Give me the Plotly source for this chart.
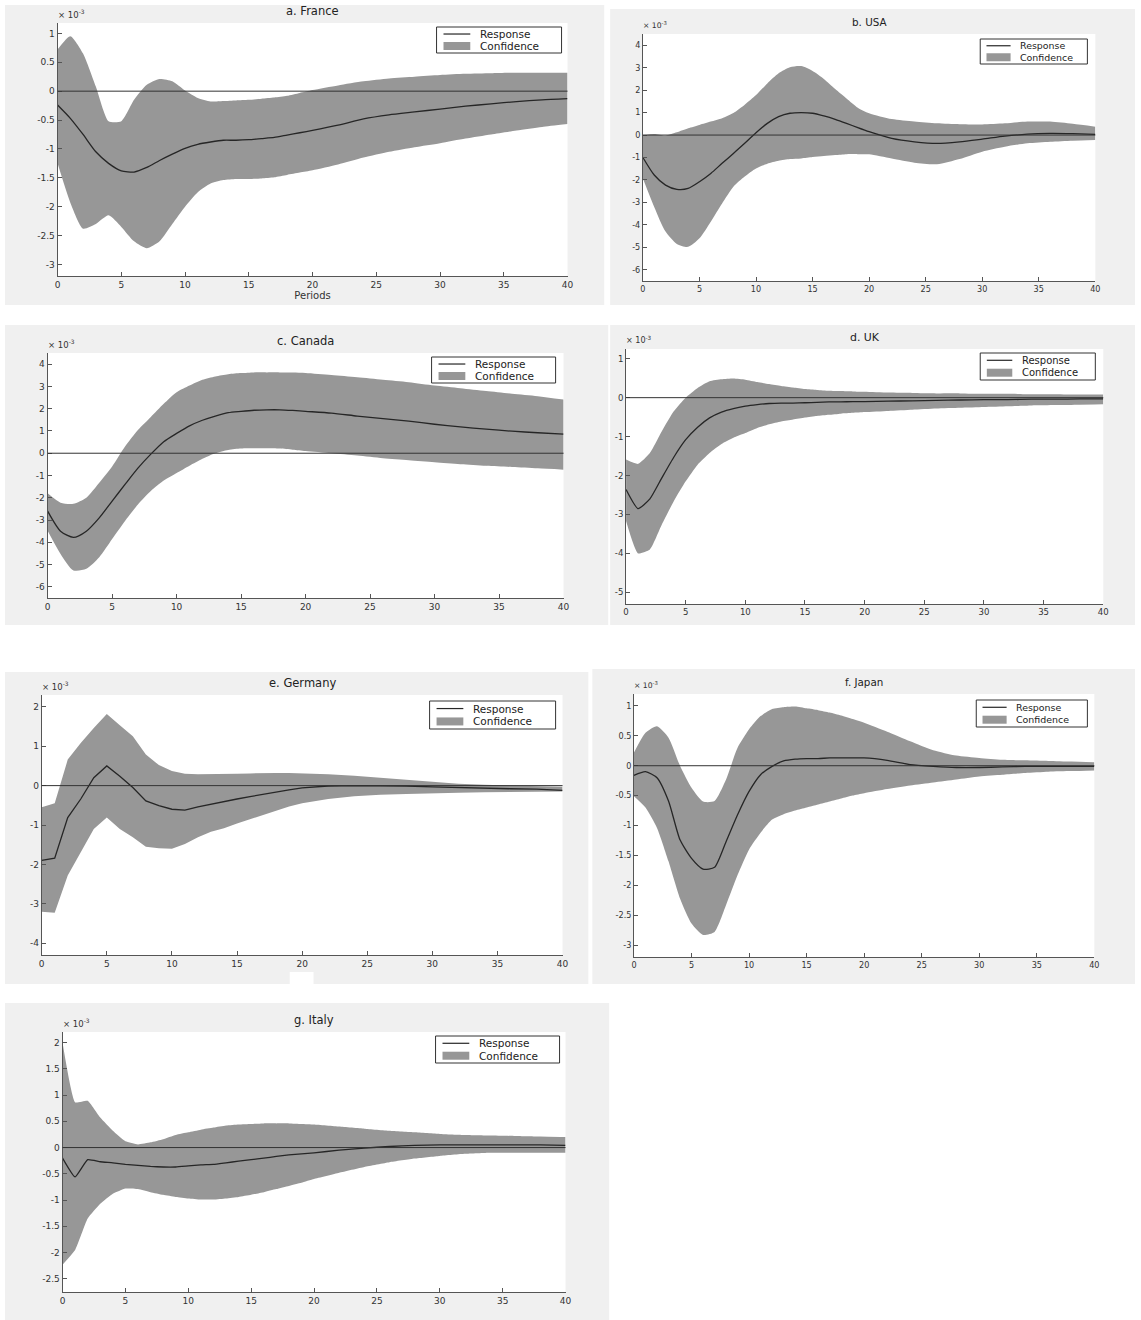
import plotly.graph_objects as go

# ---------------- data (values in units of 10^-3) ----------------
periods = list(range(0, 21)) + list(range(22, 41, 2))
x_ticks = [0, 5, 10, 15, 20, 25, 30, 35, 40]

france_response = [-0.24, -0.47, -0.75, -1.05, -1.25, -1.38, -1.40, -1.32, -1.20, -1.09, -0.99,
                   -0.92, -0.88, -0.85, -0.85, -0.84, -0.82, -0.80, -0.76, -0.72, -0.68,
                   -0.59, -0.48, -0.41, -0.36, -0.31, -0.26, -0.22, -0.18, -0.15, -0.13]
france_upper = [0.72, 0.95, 0.65, 0.08, -0.52, -0.52, -0.15, 0.11, 0.21, 0.17, 0.01,
                -0.12, -0.18, -0.17, -0.16, -0.15, -0.13, -0.11, -0.08, -0.03, 0.02,
                0.10, 0.17, 0.22, 0.25, 0.28, 0.30, 0.31, 0.32, 0.32, 0.32]
france_lower = [-1.25, -1.93, -2.38, -2.30, -2.15, -2.35, -2.60, -2.72, -2.60, -2.30, -2.00,
                -1.75, -1.60, -1.54, -1.52, -1.52, -1.51, -1.49, -1.45, -1.41, -1.37,
                -1.27, -1.15, -1.05, -0.97, -0.90, -0.82, -0.75, -0.68, -0.62, -0.57]
france_yticks = [1, 0.5, 0, -0.5, -1, -1.5, -2, -2.5, -3]

usa_response = [-1.00, -1.78, -2.23, -2.42, -2.38, -2.08, -1.71, -1.26, -0.82, -0.37, 0.10,
                0.52, 0.82, 0.97, 1.00, 0.97, 0.85, 0.70, 0.52, 0.33, 0.15,
                -0.15, -0.30, -0.37, -0.30, -0.18, -0.05, 0.04, 0.07, 0.06, 0.03]
usa_upper = [0.00, 0.05, -0.02, 0.12, 0.30, 0.45, 0.60, 0.75, 0.98, 1.35, 1.78,
             2.30, 2.75, 3.02, 3.07, 2.85, 2.50, 2.05, 1.63, 1.22, 0.97,
             0.71, 0.60, 0.52, 0.48, 0.47, 0.52, 0.60, 0.60, 0.50, 0.37]
usa_lower = [-1.93, -3.20, -4.30, -4.85, -4.98, -4.60, -3.86, -3.05, -2.30, -1.85, -1.49,
             -1.28, -1.15, -1.07, -1.04, -0.98, -0.93, -0.89, -0.85, -0.85, -0.86,
             -1.05, -1.23, -1.30, -1.07, -0.74, -0.52, -0.37, -0.30, -0.25, -0.22]
usa_yticks = [4, 3, 2, 1, 0, -1, -2, -3, -4, -5, -6]

canada_response = [-2.60, -3.50, -3.78, -3.50, -2.90, -2.15, -1.40, -0.67, -0.04, 0.52, 0.89,
                   1.23, 1.48, 1.67, 1.82, 1.88, 1.93, 1.95, 1.95, 1.92, 1.88,
                   1.80, 1.67, 1.55, 1.44, 1.30, 1.18, 1.08, 0.99, 0.92, 0.86]
canada_upper = [-1.80, -2.22, -2.27, -2.00, -1.33, -0.60, 0.30, 1.04, 1.63, 2.22, 2.74,
                3.04, 3.30, 3.45, 3.55, 3.60, 3.63, 3.63, 3.63, 3.62, 3.60,
                3.51, 3.41, 3.30, 3.19, 3.04, 2.92, 2.79, 2.67, 2.56, 2.41]
canada_lower = [-3.48, -4.52, -5.26, -5.19, -4.67, -3.85, -3.04, -2.30, -1.70, -1.23, -0.89,
                -0.56, -0.25, 0.00, 0.15, 0.21, 0.22, 0.22, 0.21, 0.16, 0.10,
                0.00, -0.10, -0.22, -0.31, -0.40, -0.49, -0.56, -0.62, -0.68, -0.74]
canada_yticks = [4, 3, 2, 1, 0, -1, -2, -3, -4, -5, -6]

uk_response = [-2.36, -2.85, -2.60, -2.06, -1.53, -1.08, -0.76, -0.52, -0.37, -0.28, -0.22,
               -0.18, -0.15, -0.14, -0.14, -0.13, -0.12, -0.11, -0.11, -0.10, -0.10,
               -0.09, -0.08, -0.07, -0.06, -0.05, -0.05, -0.04, -0.04, -0.03, -0.03]
uk_upper = [-1.59, -1.70, -1.42, -0.86, -0.35, 0.00, 0.25, 0.42, 0.47, 0.49, 0.46,
            0.40, 0.35, 0.30, 0.26, 0.22, 0.20, 0.18, 0.17, 0.16, 0.15,
            0.13, 0.12, 0.11, 0.11, 0.10, 0.10, 0.09, 0.09, 0.08, 0.08]
uk_lower = [-3.17, -4.00, -3.90, -3.26, -2.66, -2.15, -1.72, -1.42, -1.19, -1.03, -0.91,
            -0.78, -0.68, -0.61, -0.56, -0.51, -0.47, -0.44, -0.41, -0.39, -0.37,
            -0.34, -0.31, -0.28, -0.26, -0.24, -0.22, -0.20, -0.19, -0.18, -0.17]
uk_yticks = [1, 0, -1, -2, -3, -4, -5]

germany_response = [-1.90, -1.84, -0.81, -0.34, 0.20, 0.50, 0.24, -0.05, -0.39, -0.51, -0.60,
                    -0.62, -0.54, -0.47, -0.40, -0.34, -0.28, -0.22, -0.17, -0.11, -0.06,
                    -0.01, 0.00, 0.00, -0.01, -0.03, -0.05, -0.07, -0.08, -0.09, -0.12]
germany_upper = [-0.55, -0.45, 0.66, 1.08, 1.46, 1.82, 1.53, 1.25, 0.79, 0.52, 0.37,
                 0.30, 0.29, 0.29, 0.29, 0.30, 0.31, 0.32, 0.32, 0.32, 0.31,
                 0.29, 0.25, 0.20, 0.14, 0.09, 0.05, 0.02, 0.00, -0.01, -0.03]
germany_lower = [-3.20, -3.23, -2.28, -1.69, -1.10, -0.81, -1.10, -1.31, -1.55, -1.59, -1.60,
                 -1.48, -1.31, -1.17, -1.08, -0.96, -0.85, -0.73, -0.63, -0.53, -0.45,
                 -0.34, -0.27, -0.23, -0.21, -0.19, -0.18, -0.17, -0.16, -0.16, -0.15]
germany_yticks = [2, 1, 0, -1, -2, -3, -4]

japan_response = [-0.16, -0.10, -0.20, -0.59, -1.24, -1.55, -1.73, -1.70, -1.27, -0.82, -0.43,
                  -0.15, -0.01, 0.08, 0.11, 0.12, 0.12, 0.13, 0.13, 0.13, 0.13,
                  0.09, 0.02, -0.01, -0.03, -0.03, -0.02, -0.01, -0.01, -0.01, -0.01]
japan_upper = [0.22, 0.55, 0.66, 0.47, 0.00, -0.37, -0.60, -0.59, -0.23, 0.30, 0.61,
               0.83, 0.95, 0.98, 0.99, 0.96, 0.93, 0.89, 0.84, 0.78, 0.72,
               0.57, 0.41, 0.26, 0.17, 0.13, 0.10, 0.09, 0.08, 0.07, 0.06]
japan_lower = [-0.51, -0.70, -1.04, -1.60, -2.22, -2.64, -2.83, -2.78, -2.33, -1.83, -1.40,
               -1.12, -0.90, -0.81, -0.75, -0.70, -0.65, -0.60, -0.55, -0.50, -0.46,
               -0.39, -0.33, -0.28, -0.23, -0.18, -0.15, -0.12, -0.10, -0.09, -0.08]
japan_yticks = [1, 0.5, 0, -0.5, -1, -1.5, -2, -2.5, -3]

italy_response = [-0.20, -0.56, -0.23, -0.27, -0.29, -0.32, -0.34, -0.36, -0.37, -0.37, -0.35,
                  -0.33, -0.32, -0.29, -0.26, -0.23, -0.20, -0.17, -0.14, -0.12, -0.10,
                  -0.05, -0.01, 0.02, 0.04, 0.05, 0.05, 0.05, 0.05, 0.05, 0.04]
italy_upper = [2.00, 0.86, 0.89, 0.57, 0.32, 0.12, 0.06, 0.10, 0.16, 0.24, 0.29,
               0.34, 0.38, 0.42, 0.44, 0.45, 0.46, 0.46, 0.46, 0.45, 0.44,
               0.40, 0.36, 0.32, 0.29, 0.26, 0.24, 0.23, 0.22, 0.21, 0.20]
italy_lower = [-2.23, -1.95, -1.35, -1.07, -0.88, -0.78, -0.79, -0.85, -0.90, -0.94, -0.97,
               -0.99, -0.99, -0.97, -0.94, -0.90, -0.85, -0.79, -0.73, -0.67, -0.60,
               -0.48, -0.37, -0.28, -0.21, -0.16, -0.12, -0.10, -0.10, -0.10, -0.10]
italy_yticks = [2, 1.5, 1, 0.5, 0, -0.5, -1, -1.5, -2, -2.5]

titles = ["a. France", "b. USA", "c. Canada", "d. UK", "e. Germany", "f. Japan", "g. Italy"]
series_names = ["Response", "Confidence"]
scale_label = "× 10<sup>-3</sup>"
x_title = "Periods"

# ---------------- layout (pixel geometry of the page) ----------------
W, H = 1141, 1320
FILL = "#979797"
LINE = "#262626"
AXIS = "#555555"
BG = "#f0f0f0"
FONT = "DejaVu Sans"


def fx(px):
    return px / W


def fy(py):
    return 1 - py / H


panels = [
    dict(resp=france_response, up=france_upper, lo=france_lower, yt=france_yticks, smooth=0.6,
         plot=(55, 23, 569, 276), yr=(-3.2, 1.18), bg=(2, 5, 606, 305), leg=(437, 27, 563, 53), s=1.0),
    dict(resp=usa_response, up=usa_upper, lo=usa_lower, yt=usa_yticks, smooth=0.7,
         plot=(645, 34, 1101, 281), yr=(-6.5, 4.5), bg=(612, 9, 1141, 305), leg=(985, 39, 1093, 64), s=0.9),
    dict(resp=canada_response, up=canada_upper, lo=canada_lower, yt=canada_yticks, smooth=0.7,
         plot=(45, 353, 565, 598), yr=(-6.5, 4.5), bg=(2, 325, 610, 625), leg=(432, 357, 557, 383), s=1.0),
    dict(resp=uk_response, up=uk_upper, lo=uk_lower, yt=uk_yticks, smooth=0.5,
         plot=(628, 349, 1109, 604), yr=(-5.3, 1.25), bg=(612, 325, 1141, 625), leg=(985, 353, 1101, 380), s=0.95),
    dict(resp=germany_response, up=germany_upper, lo=germany_lower, yt=germany_yticks, smooth=0.0,
         plot=(39, 695, 564, 955), yr=(-4.3, 2.3), bg=(2, 672, 590, 984), leg=(430, 701, 557, 729), s=1.0),
    dict(resp=japan_response, up=japan_upper, lo=japan_lower, yt=japan_yticks, smooth=0.6,
         plot=(636, 694, 1100, 957), yr=(-3.2, 1.2), bg=(594, 669, 1141, 984), leg=(981, 700, 1093, 727), s=0.9),
    dict(resp=italy_response, up=italy_upper, lo=italy_lower, yt=italy_yticks, smooth=0.4,
         plot=(60, 1032, 567, 1292), yr=(-2.75, 2.2), bg=(2, 1003, 611, 1320), leg=(436, 1036, 561, 1063), s=1.0),
]

fig = go.Figure()
shapes = []
annotations = []
layout_axes = {}

# panel backgrounds first, then white plot areas (both below traces)
for p in panels:
    x0, y0, x1, y1 = p["bg"]
    shapes.append(dict(type="rect", xref="paper", yref="paper", layer="below",
                       x0=fx(x0), x1=fx(x1), y0=fy(y1), y1=fy(y0),
                       fillcolor=BG, line=dict(width=0)))
# small scan artefact below the Germany panel
shapes.append(dict(type="rect", xref="paper", yref="paper", layer="below",
                   x0=fx(289), x1=fx(313), y0=fy(985), y1=fy(972),
                   fillcolor="white", line=dict(width=0)))
for p in panels:
    x0, y0, x1, y1 = p["plot"]
    shapes.append(dict(type="rect", xref="paper", yref="paper", layer="below",
                       x0=fx(x0), x1=fx(x1), y0=fy(y1), y1=fy(y0),
                       fillcolor="white", line=dict(width=0)))

for i, (p, title) in enumerate(zip(panels, titles)):
    n = "" if i == 0 else str(i + 1)
    xa, ya = "x" + n, "y" + n
    s = p["s"]
    sm = p["smooth"]
    shape = "spline" if sm > 0 else "linear"
    px0, py0, px1, py1 = p["plot"]

    # confidence band: lower edge, then upper edge filled down to it
    fig.add_trace(go.Scatter(
        x=periods, y=p["lo"], mode="lines",
        line=dict(width=0, color=FILL, shape=shape, smoothing=sm if sm > 0 else None),
        xaxis=xa, yaxis=ya, showlegend=False, hoverinfo="skip", name=series_names[1] + " (lower)"))
    fig.add_trace(go.Scatter(
        x=periods, y=p["up"], mode="lines", fill="tonexty", fillcolor=FILL,
        line=dict(width=0, color=FILL, shape=shape, smoothing=sm if sm > 0 else None),
        xaxis=xa, yaxis=ya, showlegend=False, hoverinfo="skip", name=series_names[1]))
    # response
    fig.add_trace(go.Scatter(
        x=periods, y=p["resp"], mode="lines",
        line=dict(color=LINE, width=1.3, shape=shape, smoothing=sm if sm > 0 else None),
        xaxis=xa, yaxis=ya, showlegend=False, hoverinfo="skip", name=series_names[0]))

    tickfont = dict(family=FONT, size=9 * s, color="#333333")
    xa_cfg = dict(
        domain=[fx(px0), fx(px1)], anchor=ya, range=[0, 40],
        tickvals=x_ticks, ticktext=[str(v) for v in x_ticks],
        showgrid=False, zeroline=False, showline=True, linecolor=AXIS, linewidth=1,
        ticks="inside", ticklen=4, tickcolor=AXIS, tickfont=tickfont,
        layer="above traces", fixedrange=True,
    )
    if i == 0:
        xa_cfg["title"] = dict(text=x_title, font=dict(family=FONT, size=10, color="#333333"), standoff=2)
    layout_axes["xaxis" + n] = xa_cfg
    layout_axes["yaxis" + n] = dict(
        domain=[fy(py1), fy(py0)], anchor=xa, range=list(p["yr"]),
        tickvals=p["yt"], ticktext=[f"{v:g}" for v in p["yt"]],
        showgrid=False, zeroline=False, showline=True, linecolor=AXIS, linewidth=1,
        ticks="inside", ticklen=4, tickcolor=AXIS, tickfont=tickfont,
        layer="above traces", fixedrange=True,
    )

    # zero reference line
    shapes.append(dict(type="line", xref=xa + " domain", yref=ya, x0=0, x1=1, y0=0, y1=0,
                       line=dict(color="#333333", width=1), layer="above"))

    # title
    annotations.append(dict(text=title, xref="paper", yref="paper",
                            x=fx((px0 + px1) / 2), y=fy(py0 - 12), xanchor="center", yanchor="middle",
                            showarrow=False, font=dict(family=FONT, size=11.5 * s, color="#222222")))
    # exponent label
    annotations.append(dict(text=scale_label, xref="paper", yref="paper",
                            x=fx(px0 - 2), y=fy(py0 - 9), xanchor="left", yanchor="middle",
                            showarrow=False, font=dict(family=FONT, size=8.5 * s, color="#333333")))

    # legend box
    lx0, ly0, lx1, ly1 = p["leg"]
    shapes.append(dict(type="rect", xref="paper", yref="paper", layer="above",
                       x0=fx(lx0), x1=fx(lx1), y0=fy(ly1), y1=fy(ly0),
                       fillcolor="white", line=dict(color="#333333", width=1)))
    hgt = ly1 - ly0
    r1 = ly0 + hgt * 0.27
    r2 = ly0 + hgt * 0.73
    shapes.append(dict(type="line", xref="paper", yref="paper", layer="above",
                       x0=fx(lx0 + 7 * s), x1=fx(lx0 + 34 * s), y0=fy(r1), y1=fy(r1),
                       line=dict(color=LINE, width=1.2)))
    shapes.append(dict(type="rect", xref="paper", yref="paper", layer="above",
                       x0=fx(lx0 + 7 * s), x1=fx(lx0 + 34 * s), y0=fy(r2 + 4), y1=fy(r2 - 4),
                       fillcolor=FILL, line=dict(width=0)))
    for txt, ry in zip(series_names, (r1, r2)):
        annotations.append(dict(text=txt, xref="paper", yref="paper",
                                x=fx(lx0 + 42 * s), y=fy(ry), xanchor="left", yanchor="middle",
                                showarrow=False, font=dict(family=FONT, size=10.5 * s, color="#222222")))

fig.update_layout(
    width=W, height=H, margin=dict(l=0, r=0, t=0, b=0),
    paper_bgcolor="white", plot_bgcolor="rgba(0,0,0,0)",
    showlegend=False, hovermode=False,
    shapes=shapes, annotations=annotations,
    **layout_axes,
)

fig.write_html("out.html", config={"displayModeBar": False, "staticPlot": True},
               post_script="document.body.style.margin='0';")
